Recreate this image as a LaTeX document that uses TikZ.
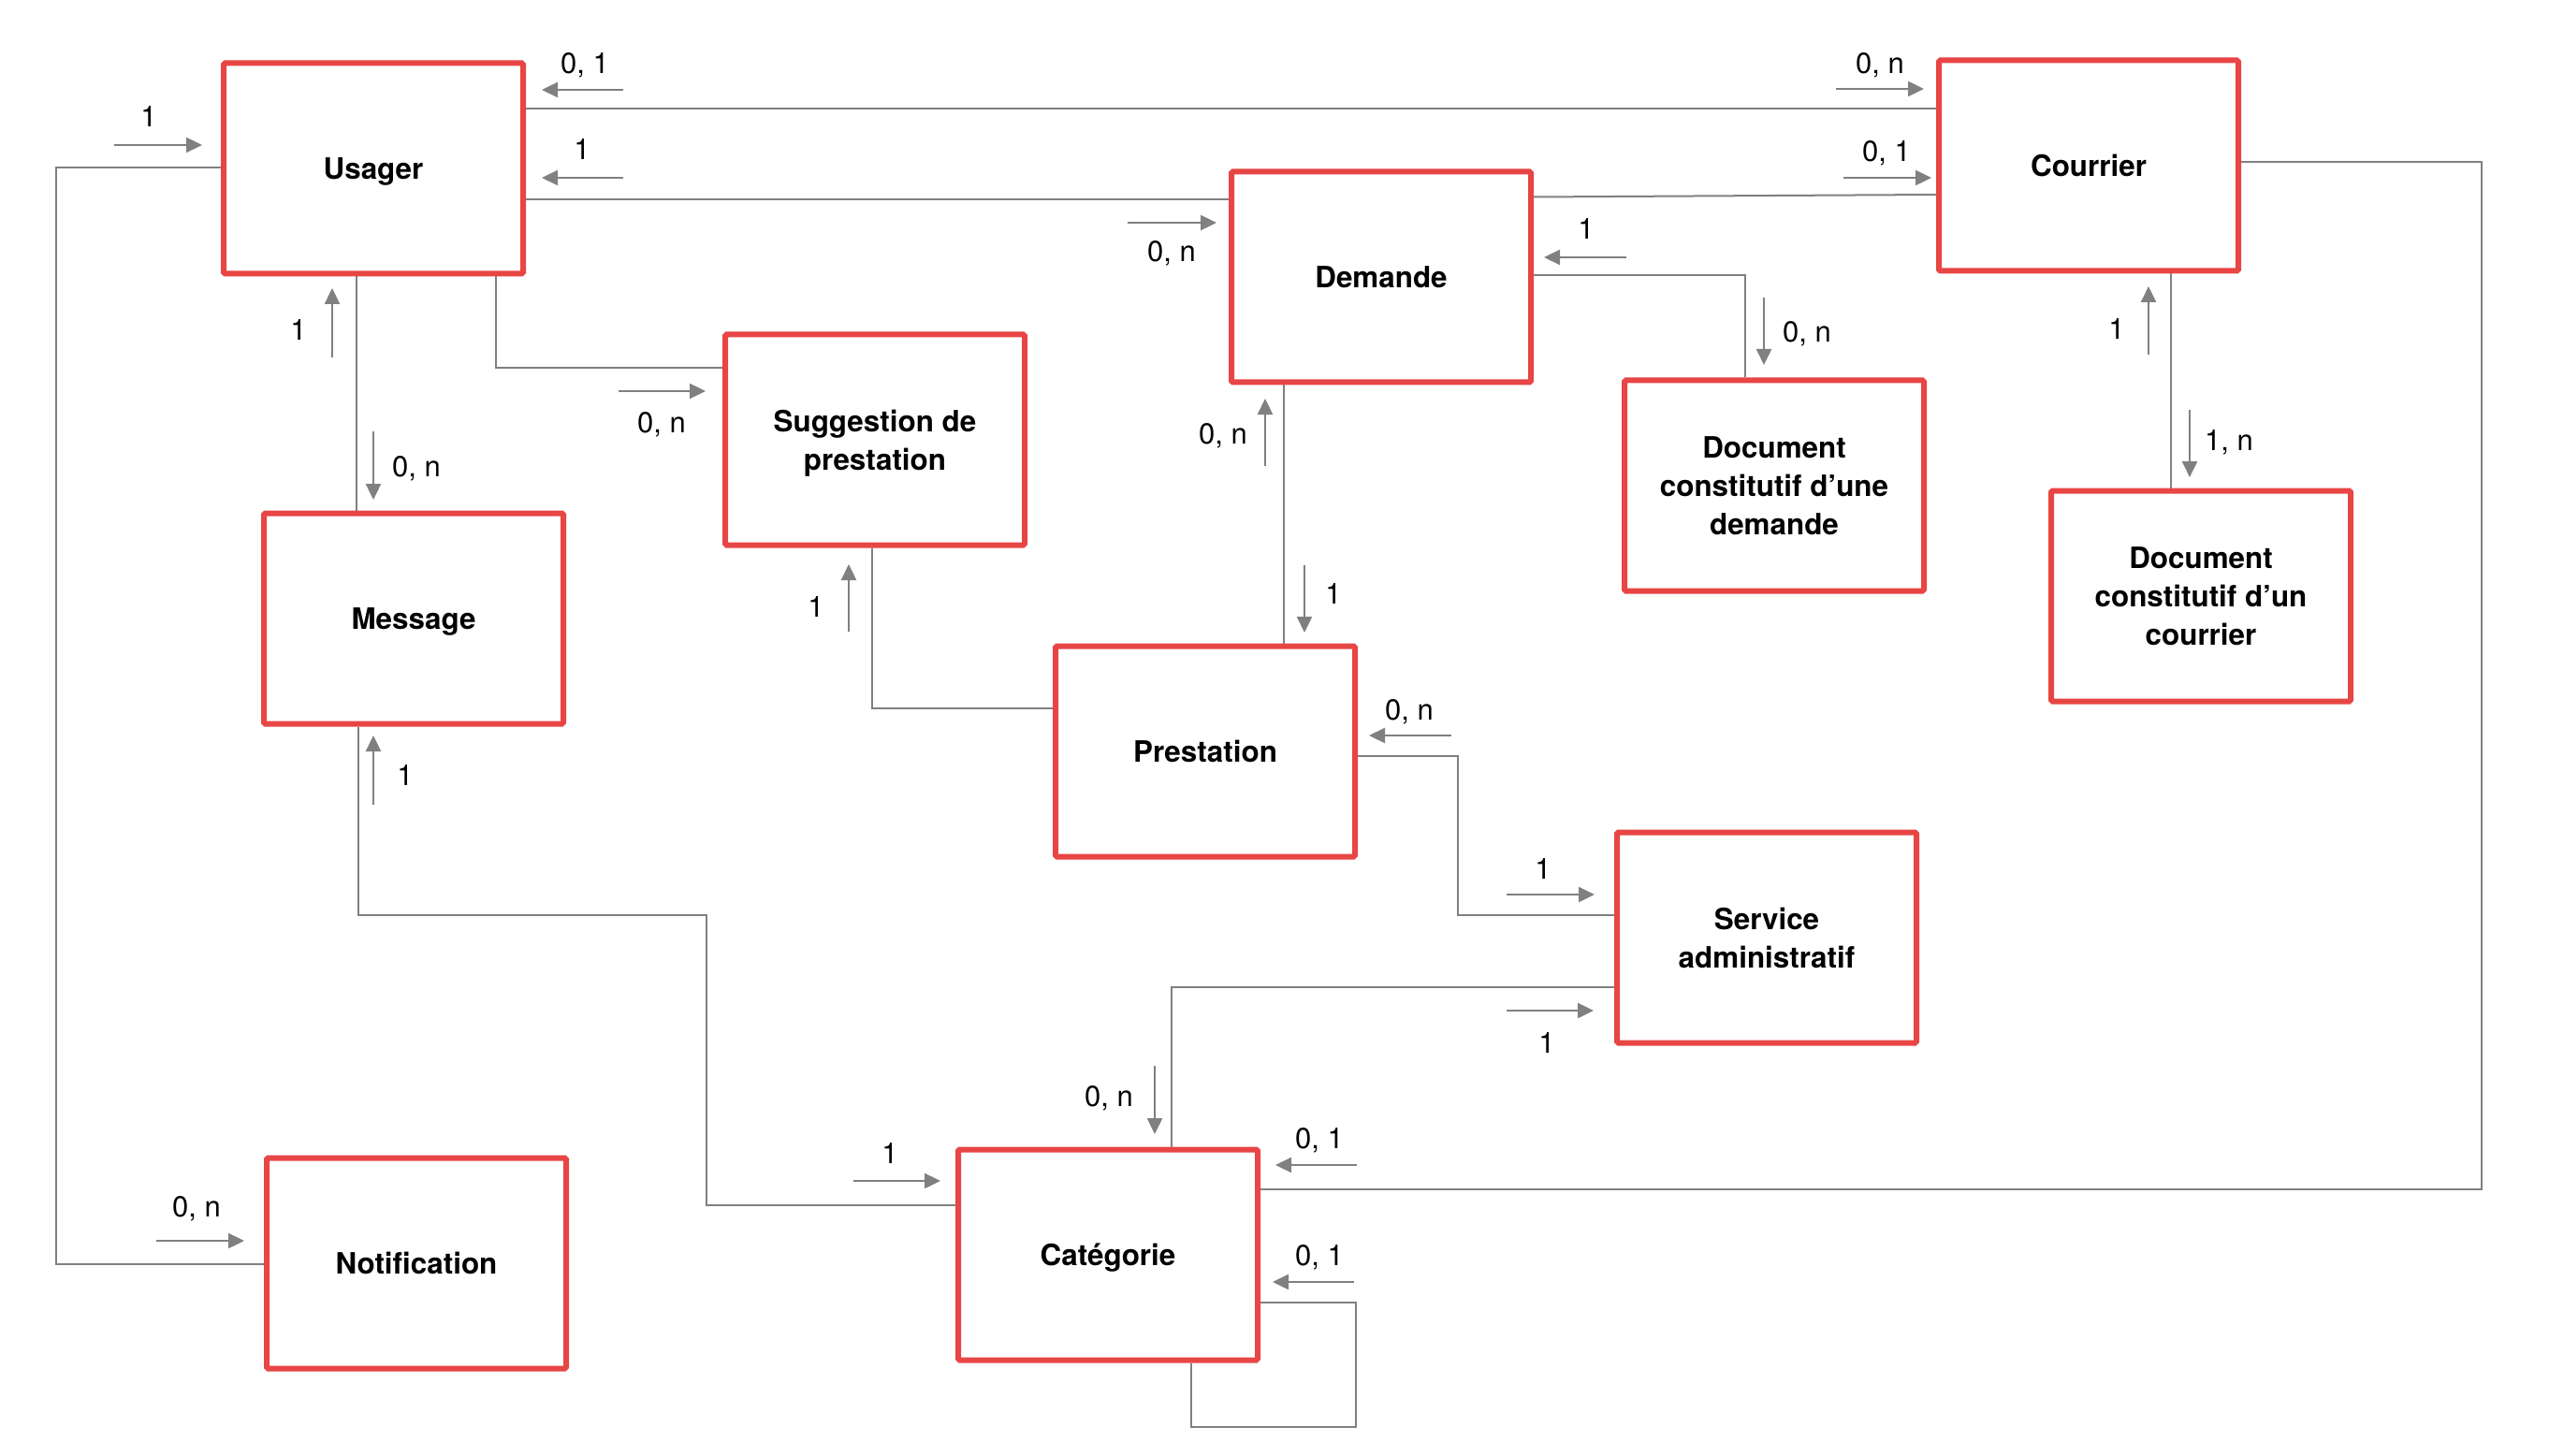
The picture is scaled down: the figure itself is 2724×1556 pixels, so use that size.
\documentclass[tikz,border=0pt]{standalone}
\usepackage{fontspec}
\setmainfont{TeX Gyre Heros}
\usetikzlibrary{arrows.meta}
\definecolor{boxred}{HTML}{E84545}
\definecolor{linegray}{HTML}{808080}
\begin{document}
\begin{tikzpicture}[x=0.5pt,y=-0.5pt,
  entity/.style={draw=boxred, line width=3pt, rounded corners=0.8pt, minimum width=160pt, minimum height=112.5pt, inner sep=0pt, text depth=0pt, align=center, font=\fontsize{15.7}{20.5}\selectfont\bfseries},
  conn/.style={draw=linegray, line width=1pt},
  card/.style={draw=linegray, line width=1.2pt, -{Triangle[length=8.5pt,width=8pt]}},
  lbl/.style={font=\fontsize{15.5}{18}\selectfont, inner sep=0pt, anchor=base}]
\useasboundingbox (0,0) rectangle (2724,1556);

% entities
\node[entity] (Usager) at (399,180) {Usager};
\node[entity] (Courrier) at (2232,177) {Courrier};
\node[entity] (Demande) at (1476,296) {Demande};
\node[entity] (Suggestion) at (935,470) {Suggestion de\\prestation};
\node[entity] (DocDemande) at (1896,519) {Document\\constitutif d’une\\demande};
\node[entity] (DocCourrier) at (2352,637) {Document\\constitutif d’un\\courrier};
\node[entity] (Message) at (442,661) {Message};
\node[entity] (Prestation) at (1288,803) {Prestation};
\node[entity] (Service) at (1888,1002) {Service\\administratif};
\node[entity] (Notification) at (445,1350) {Notification};
\node[entity] (Categorie) at (1184,1341) {Catégorie};

% bend coordinates
\coordinate (uc) at (0,116);
\coordinate (ud) at (0,213);
\coordinate (dc1) at (0,210.5);
\coordinate (dc2) at (0,208);
\coordinate (dd) at (1865,294);
\coordinate (r1) at (2652,173);
\coordinate (r2) at (2652,1271);
\coordinate (l1) at (60,179);
\coordinate (l2) at (60,1351);
\coordinate (um) at (381,0);
\coordinate (us) at (530,393);
\coordinate (mc1) at (383,978);
\coordinate (mc2) at (755,978);
\coordinate (mc3) at (755,1288);
\coordinate (sp) at (932,757);
\coordinate (dp) at (1372,0);
\coordinate (ps1) at (1558,808);
\coordinate (ps2) at (1558,978);
\coordinate (sc) at (1252,1055);
\coordinate (cc) at (2320,0);
\coordinate (lp1) at (1449,1392);
\coordinate (lp2) at (1449,1525);
\coordinate (lp3) at (1273,1525);

% connectors
\draw[conn] (Usager.east |- uc) -- (Courrier.west |- uc);
\draw[conn] (Usager.east |- ud) -- (Demande.west |- ud);
\draw[conn] (Demande.east |- dc1) -- (Courrier.west |- dc2);
\draw[conn] (Demande.east |- dd) -- (dd) -- (DocDemande.north -| dd);
\draw[conn] (Courrier.east |- r1) -- (r1) -- (r2) -- (Categorie.east |- r2);
\draw[conn] (Usager.west |- l1) -- (l1) -- (l2) -- (Notification.west |- l2);
\draw[conn] (Usager.south -| um) -- (Message.north -| um);
\draw[conn] (Usager.south -| us) -- (us) -- (Suggestion.west |- us);
\draw[conn] (Message.south -| mc1) -- (mc1) -- (mc2) -- (mc3) -- (Categorie.west |- mc3);
\draw[conn] (Suggestion.south -| sp) -- (sp) -- (Prestation.west |- sp);
\draw[conn] (Demande.south -| dp) -- (Prestation.north -| dp);
\draw[conn] (Prestation.east |- ps1) -- (ps1) -- (ps2) -- (Service.west |- ps2);
\draw[conn] (Service.west |- sc) -- (sc) -- (Categorie.north -| sc);
\draw[conn] (Courrier.south -| cc) -- (DocCourrier.north -| cc);
\draw[conn] (Categorie.east |- lp1) -- (lp1) -- (lp2) -- (lp3) -- (Categorie.south -| lp3);

% cardinality arrows and labels
\draw[card] (666,96) -- (579,96);   \node[lbl] (ta) at (625,79) {0, 1};
\draw[card] (666,190) -- (579,190); \node[lbl] (tb) at (622,171) {1};
\draw[card] (122,155) -- (216,155); \node[lbl] (tc) at (159,136) {1};
\draw[card] (355,382) -- (355,308); \node[lbl] (td) at (319,364) {1};
\draw[card] (399,461) -- (399,534); \node[lbl] (te) at (445,509) {0, n};
\draw[card] (661,418) -- (754,418); \node[lbl] (tf) at (707,462) {0, n};
\draw[card] (1205,238) -- (1300,238); \node[lbl] (tg) at (1252,280) {0, n};
\draw[card] (1738,275) -- (1650,275); \node[lbl] (th) at (1695,256) {1};
\draw[card] (1885,318) -- (1885,390); \node[lbl] (ti) at (1931,366) {0, n};
\draw[card] (1962,95) -- (2056,95);  \node[lbl] (tj) at (2009,79) {0, n};
\draw[card] (1970,190) -- (2064,190); \node[lbl] (tk) at (2016,173) {0, 1};
\draw[card] (2296,379) -- (2296,306); \node[lbl] (tl) at (2262,363) {1};
\draw[card] (2340,438) -- (2340,510); \node[lbl] (tm) at (2382,481) {1, n};
\draw[card] (1352,498) -- (1352,426); \node[lbl] (tn) at (1307,474) {0, n};
\draw[card] (1394,604) -- (1394,676); \node[lbl] (to) at (1425,645) {1};
\draw[card] (907,675) -- (907,603);   \node[lbl] (tp) at (872,659) {1};
\draw[card] (399,860) -- (399,786);   \node[lbl] (tq) at (433,839) {1};
\draw[card] (1551,786) -- (1463,786); \node[lbl] (tr) at (1506,769) {0, n};
\draw[card] (1610,956) -- (1704,956); \node[lbl] (ts) at (1649,939) {1};
\draw[card] (1610,1080) -- (1703,1080); \node[lbl] (tt) at (1653,1125) {1};
\draw[card] (1234,1139) -- (1234,1212); \node[lbl] (tu) at (1185,1182) {0, n};
\draw[card] (1450,1245) -- (1363,1245); \node[lbl] (tv) at (1410,1227) {0, 1};
\draw[card] (1447,1370) -- (1360,1370); \node[lbl] (tw) at (1410,1352) {0, 1};
\draw[card] (167,1326) -- (261,1326);   \node[lbl] (tx) at (210,1300) {0, n};
\draw[card] (912,1262) -- (1005,1262);  \node[lbl] (ty) at (951,1243) {1};
\end{tikzpicture}
\end{document}
